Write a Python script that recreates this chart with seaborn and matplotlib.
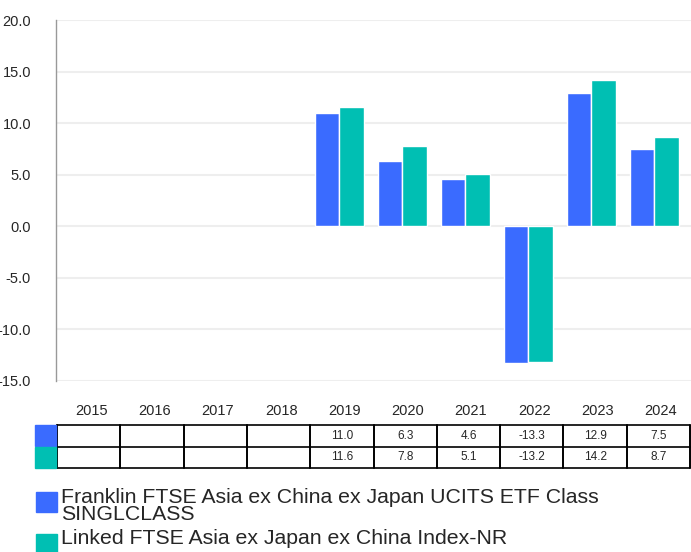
import numpy as np
import pandas as pd
import matplotlib
matplotlib.use("Agg")
import matplotlib.pyplot as plt
import seaborn as sns
from matplotlib.patches import Rectangle

# Datos
years = ["2015", "2016", "2017", "2018", "2019", "2020", "2021", "2022", "2023", "2024"]
fund_name = "Franklin FTSE Asia ex China ex Japan UCITS ETF Class\nSINGLCLASS"
index_name = "Linked FTSE Asia ex Japan ex China Index-NR"
fund_vals = [np.nan, np.nan, np.nan, np.nan, 11.0, 6.3, 4.6, -13.3, 12.9, 7.5]
index_vals = [np.nan, np.nan, np.nan, np.nan, 11.6, 7.8, 5.1, -13.2, 14.2, 8.7]
colors = ["#3a6bff", "#00bfb3"]

df = pd.DataFrame({
    "year": years * 2,
    "value": fund_vals + index_vals,
    "serie": [fund_name] * 10 + [index_name] * 10,
})

sns.set_style("white")
plt.rcParams["font.family"] = ["Liberation Sans", "DejaVu Sans"]

W, H = 691, 552
fig = plt.figure(figsize=(W / 100, H / 100), dpi=100)

def px_axes(x0, y0, x1, y1):
    return fig.add_axes([x0 / W, 1 - y1 / H, (x1 - x0) / W, (y1 - y0) / H])

# Grafico de barras
ax = px_axes(56, 20, 691, 381)
sns.barplot(data=df, x="year", y="value", hue="serie", order=years,
            palette=colors, saturation=1, width=0.78, edgecolor="white",
            linewidth=1, legend=False, ax=ax, zorder=3)
ax.set_ylim(-15, 20)
ax.set_xlim(-0.5, len(years) - 0.42)
ticks = np.arange(-15, 21, 5)
ax.set_yticks(ticks)
ax.set_yticklabels([f"{t:.1f}" for t in ticks], fontsize=10.5)
for t in ticks:
    ax.axhline(t, color="#eeeeee", lw=1.5, zorder=0)
ax.set_xticks([])
ax.tick_params(axis="y", length=0, pad=18)
ax.set_xlabel("")
ax.set_ylabel("")
for s in ["top", "right", "bottom"]:
    ax.spines[s].set_visible(False)
ax.spines["left"].set_color("#999999")
ax.spines["left"].set_linewidth(1)

# Tabla de valores
tab = px_axes(57, 425, 690, 468)
tab.set_xlim(-0.5, len(years) - 0.5)
tab.set_ylim(0, 2)
tab.axis("off")
for i, y in enumerate(years):
    tab.text(i + 0.04, 2.66, y, ha="center", va="center", fontsize=10.5)
for i in range(len(years) + 1):
    tab.plot([i - 0.5, i - 0.5], [0, 2], color="black", lw=1.4, clip_on=False)
for j in range(3):
    tab.plot([-0.5, len(years) - 0.5], [j, j], color="black", lw=1.2, clip_on=False)
for row, vals in enumerate([fund_vals, index_vals]):
    for i, v in enumerate(vals):
        if not np.isnan(v):
            tab.text(i, 1.5 - row, f"{v:.1f}", ha="center", va="center", fontsize=8.5)

# Muestras de color de la tabla
fig.patches.append(Rectangle((35 / W, 1 - 446 / H), 21 / W, 21 / H,
                             transform=fig.transFigure, color=colors[0]))
fig.patches.append(Rectangle((35 / W, 1 - 468 / H), 21 / W, 21 / H,
                             transform=fig.transFigure, color=colors[1]))

# Leyenda
fig.patches.append(Rectangle((36 / W, 1 - 512 / H), 21 / W, 20 / H,
                             transform=fig.transFigure, color=colors[0]))
fig.patches.append(Rectangle((36 / W, 1 - 552 / H), 21 / W, 18 / H,
                             transform=fig.transFigure, color=colors[1]))
fig.text(61 / W, 1 - 488 / H, fund_name, fontsize=15.3, va="top", linespacing=0.88)
fig.text(61 / W, 1 - 529 / H, index_name, fontsize=15.3, va="top")

fig.savefig("out.png", dpi=100)
